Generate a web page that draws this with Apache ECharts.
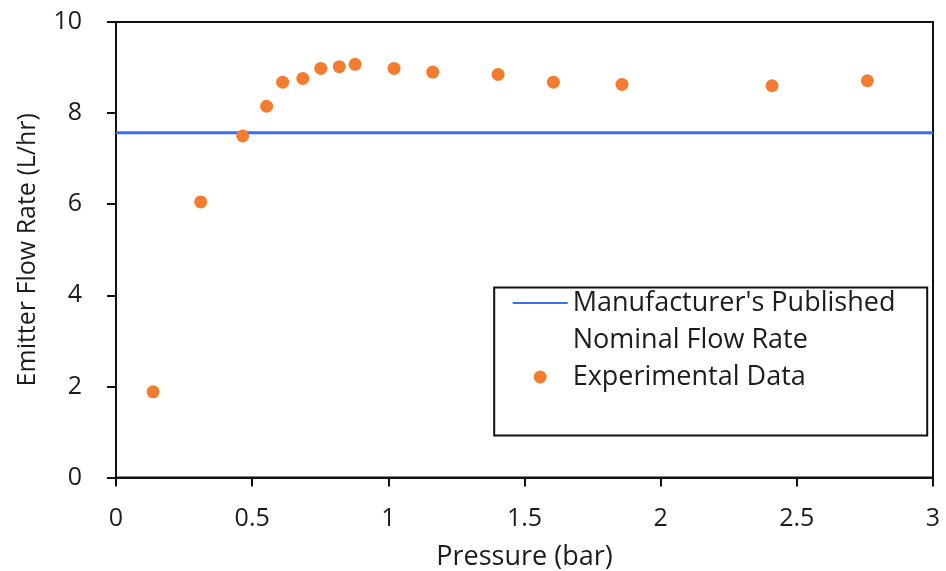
<!DOCTYPE html>
<html>
<head>
<meta charset="utf-8">
<script src="https://cdn.jsdelivr.net/npm/echarts@6/dist/echarts.min.js"></script>
<style>
html,body{margin:0;padding:0;background:#fff;}
#chart{width:946px;height:571px;}
</style>
</head>
<body>
<div id="chart"></div>
<script>
// Data
var pressure = [0.136, 0.311, 0.465, 0.553, 0.612, 0.686, 0.752, 0.820, 0.878, 1.021, 1.163, 1.403, 1.606, 1.858, 2.409, 2.759];
var flowRate = [1.88, 6.05, 7.50, 8.15, 8.68, 8.76, 8.98, 9.02, 9.07, 8.98, 8.90, 8.85, 8.68, 8.63, 8.60, 8.71];
var nominalRate = 7.57;
var nominalRange = [0, 3];
var lineName = "Manufacturer's Published Nominal Flow Rate";
var dotName = "Experimental Data";
var xTitle = "Pressure (bar)";
var yTitle = "Emitter Flow Rate (L/hr)";

var scatterData = pressure.map(function (p, i) { return [p, flowRate[i]]; });
var nominalData = nominalRange.map(function (p) { return [p, nominalRate]; });

var FONT = '"Open Sans", Lato, sans-serif';
var TXT = '#1c1c1c';
var chart = echarts.init(document.getElementById('chart'));
chart.setOption({
  animation: false,
  backgroundColor: '#fff',
  grid: {
    left: 116, right: 13, top: 22, bottom: 93.5,
    outerBoundsMode: 'none', containLabel: false,
    show: true, borderColor: '#111', borderWidth: 2, backgroundColor: 'transparent'
  },
  xAxis: {
    type: 'value', min: 0, max: 3, interval: 0.5,
    name: xTitle, nameLocation: 'middle', nameGap: 66,
    nameTextStyle: { fontFamily: FONT, fontSize: 27, color: TXT },
    axisLine: { show: true, onZero: false, lineStyle: { color: '#111', width: 2 } },
    axisTick: { show: true, inside: false, length: 9, lineStyle: { color: '#111', width: 2 } },
    axisLabel: { fontFamily: FONT, fontSize: 25, color: TXT, margin: 29 },
    splitLine: { show: false }
  },
  yAxis: {
    type: 'value', min: 0, max: 10, interval: 2,
    name: yTitle, nameLocation: 'middle', nameGap: 76,
    nameTextStyle: { fontFamily: FONT, fontSize: 25, color: TXT },
    axisLine: { show: true, lineStyle: { color: '#111', width: 2 } },
    axisTick: { show: true, inside: false, length: 9, lineStyle: { color: '#111', width: 2 } },
    axisLabel: { fontFamily: FONT, fontSize: 25, color: TXT, margin: 34 },
    splitLine: { show: false }
  },
  legend: {
    orient: 'vertical',
    left: 511.7, top: 247.5,
    itemWidth: 55, itemHeight: 13, itemGap: 0,
    padding: 0,
    data: [
      { name: lineName, itemStyle: { opacity: 0 } },
      { name: dotName }
    ],
    formatter: function (name) {
      if (name === lineName) return "\nManufacturer's Published\nNominal Flow Rate";
      return name;
    },
    textStyle: { fontFamily: FONT, fontSize: 27, color: TXT, lineHeight: 37 }
  },
  graphic: [{
    type: 'rect', left: 491.7, top: 285, z: 100,
    shape: { width: 433, height: 148 },
    style: { fill: 'none', stroke: '#111', lineWidth: 2 }
  }],
  series: [
    {
      name: lineName, type: 'line', data: nominalData,
      symbol: 'none', lineStyle: { color: '#3B6EF2', width: 3 }, itemStyle: { color: '#3B6EF2' },
      z: 2
    },
    {
      name: dotName, type: 'scatter', data: scatterData,
      symbol: 'circle', symbolSize: 13,
      itemStyle: { color: '#F47C30', opacity: 1 },
      z: 3
    }
  ]
});
</script>
</body>
</html>
